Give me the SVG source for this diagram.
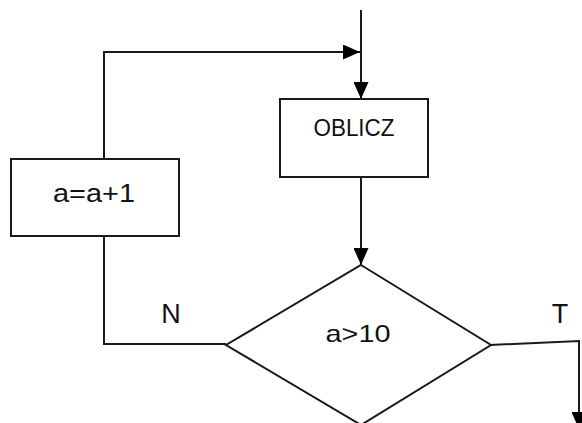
<svg xmlns="http://www.w3.org/2000/svg" width="582" height="423" viewBox="0 0 582 423">
  <style>
    .box { fill: #ffffff; stroke: #1a1a1a; stroke-width: 2; }
    .line { fill: none; stroke: #1a1a1a; stroke-width: 2; }
    .lbl { font-family: "Liberation Sans", Arial, sans-serif; fill: #111111; text-anchor: middle; }
  </style>
  <defs>
    <marker id="arrow" viewBox="0 0 17 15" refX="17" refY="7.5" markerWidth="17" markerHeight="15" markerUnits="userSpaceOnUse" orient="auto">
      <path d="M0,0 L17,7.5 L0,15 Z" fill="#000000"/>
    </marker>
  </defs>
  <rect width="582" height="423" fill="#ffffff"/>

  <g id="connectors">
    <path class="line" d="M361,10 L361,99" marker-end="url(#arrow)"/>
    <path class="line" d="M104,159 L104,52 L360,52" marker-end="url(#arrow)"/>
    <path class="line" d="M361,177 L361,265" marker-end="url(#arrow)"/>
    <path class="line" d="M226,344 L104,344 L104,236"/>
    <path class="line" d="M490,345 L579,341 L579,429" marker-end="url(#arrow)"/>
  </g>

  <g id="node-oblicz">
    <rect class="box" x="280" y="99" width="148" height="78"/>
    <text class="lbl" x="354" y="136" font-size="23" textLength="81" lengthAdjust="spacingAndGlyphs">OBLICZ</text>
  </g>

  <g id="node-increment">
    <rect class="box" x="11" y="159" width="168" height="77"/>
    <text class="lbl" x="94" y="202" font-size="26" textLength="82" lengthAdjust="spacingAndGlyphs">a=a+1</text>
  </g>

  <g id="node-decision">
    <polygon class="box" points="361,265 491,345 361,425 226,345"/>
    <text class="lbl" x="358" y="342" font-size="24" textLength="65" lengthAdjust="spacingAndGlyphs">a&gt;10</text>
  </g>

  <g id="labels">
    <text class="lbl" x="171" y="323" font-size="27">N</text>
    <text class="lbl" x="560" y="323" font-size="27">T</text>
  </g>
</svg>
